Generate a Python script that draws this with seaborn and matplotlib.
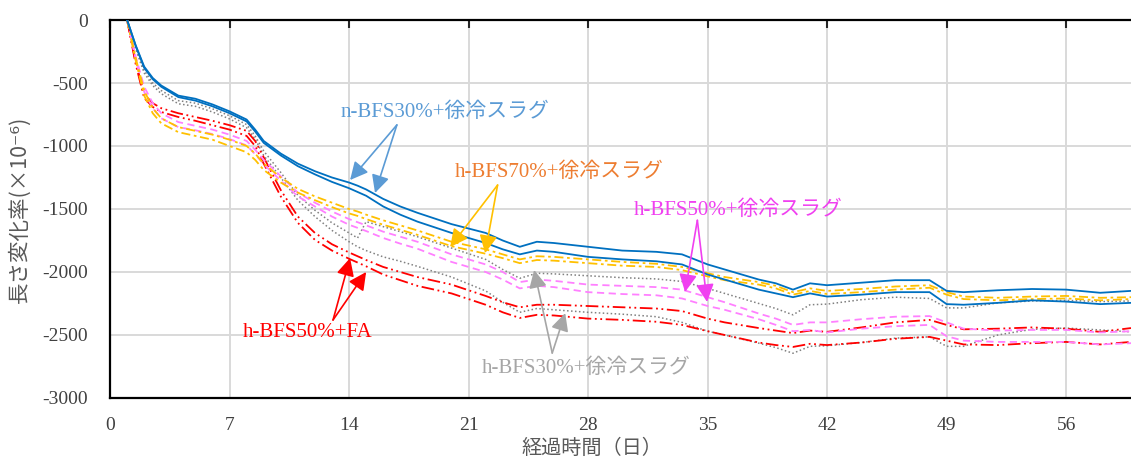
import matplotlib
matplotlib.use("Agg")
import matplotlib.pyplot as plt
import numpy as np
import pandas as pd
import seaborn as sns

# elapsed time (days) shared by all specimens
days = [1, 1.5, 2, 2.5, 3, 4, 5, 6, 7, 8, 8.5, 9, 10, 11, 12, 13, 14, 14.5, 15,
        16, 17, 18, 20, 22, 23, 24, 25, 26, 28, 30, 32, 33.5, 35, 36, 38, 39,
        40, 41, 42, 44, 46, 48, 49, 50, 52, 54, 56, 58, 59.8]

# length change (x10^-6), two specimens per mix
n30_a = [0, -200, -370, -460, -520, -600, -625, -670, -725, -790, -870, -960, -1060, -1140,
         -1200, -1250, -1290, -1315, -1345, -1420, -1480, -1530, -1620, -1690, -1750, -1800,
         -1760, -1770, -1800, -1830, -1840, -1860, -1940, -1980, -2060, -2090, -2140, -2090,
         -2105, -2085, -2065, -2065, -2150, -2160, -2145, -2135, -2140, -2165, -2150]
n30_b = [0, -205, -380, -470, -530, -612, -640, -685, -740, -805, -885, -975, -1075, -1160,
         -1225, -1285, -1335, -1365, -1395, -1480, -1545, -1600, -1690, -1770, -1820, -1860,
         -1830, -1840, -1880, -1900, -1915, -1940, -2020, -2060, -2140, -2170, -2200, -2170,
         -2195, -2180, -2160, -2160, -2255, -2260, -2245, -2225, -2235, -2255, -2245]
h70_a = [0, -300, -560, -700, -780, -850, -880, -910, -950, -1000, -1060, -1140, -1250, -1340,
         -1400, -1450, -1500, -1520, -1545, -1590, -1630, -1670, -1760, -1820, -1860, -1900,
         -1875, -1880, -1900, -1920, -1935, -1960, -2010, -2040, -2080, -2110, -2160, -2130,
         -2150, -2135, -2115, -2105, -2160, -2195, -2205, -2195, -2190, -2205, -2200]
h70_b = [0, -320, -600, -740, -820, -890, -920, -950, -1000, -1050, -1110, -1190, -1290, -1370,
         -1430, -1485, -1535, -1555, -1580, -1625, -1665, -1705, -1795, -1855, -1890, -1930,
         -1905, -1910, -1930, -1950, -1960, -1985, -2035, -2065, -2100, -2130, -2180, -2150,
         -2175, -2160, -2140, -2125, -2180, -2215, -2225, -2215, -2210, -2225, -2215]
h50_a = [0, -290, -530, -660, -740, -810, -840, -870, -910, -960, -1030, -1110, -1240, -1370,
         -1450, -1520, -1580, -1605, -1630, -1680, -1720, -1760, -1860, -1940, -2000, -2080,
         -2060, -2070, -2100, -2110, -2120, -2140, -2200, -2240, -2330, -2370, -2420, -2400,
         -2400, -2375, -2355, -2350, -2400, -2450, -2465, -2460, -2460, -2480, -2470]
h50_b = [0, -310, -570, -700, -780, -850, -875, -905, -945, -995, -1065, -1145, -1275, -1400,
         -1480, -1560, -1625, -1650, -1675, -1730, -1775, -1815, -1920, -2000, -2060, -2130,
         -2110, -2120, -2160, -2175, -2185, -2210, -2270, -2300, -2375, -2420, -2470, -2460,
         -2480, -2450, -2430, -2420, -2510, -2545, -2555, -2555, -2555, -2575, -2565]
fa_a = [0, -330, -590, -660, -700, -740, -770, -800, -835, -880, -960, -1090, -1350, -1560,
        -1690, -1780, -1845, -1875, -1905, -1960, -2000, -2040, -2100, -2190, -2240, -2280,
        -2260, -2260, -2270, -2280, -2290, -2310, -2370, -2400, -2445, -2465, -2485, -2465,
        -2475, -2440, -2400, -2380, -2420, -2455, -2450, -2440, -2450, -2475, -2445]
fa_b = [0, -350, -620, -690, -730, -770, -800, -835, -870, -920, -1000, -1140, -1400, -1610,
        -1745, -1830, -1895, -1925, -1955, -2020, -2065, -2110, -2170, -2260, -2320, -2365,
        -2340, -2345, -2370, -2380, -2395, -2420, -2470, -2500, -2560, -2580, -2595, -2570,
        -2580, -2560, -2530, -2515, -2545, -2575, -2580, -2565, -2555, -2575, -2555]
h30_a = [0, -220, -400, -500, -560, -640, -660, -705, -760, -830, -920, -1040, -1210, -1390,
         -1510, -1610, -1690, -1730, -1600, -1640, -1680, -1720, -1810, -1900, -1980, -2050,
         -2010, -2015, -2030, -2045, -2055, -2075, -2130, -2170, -2250, -2290, -2340, -2260,
         -2255, -2220, -2200, -2210, -2285, -2285, -2245, -2230, -2225, -2235, -2230]
h30_b = [0, -230, -420, -520, -585, -665, -685, -730, -785, -855, -945, -1075, -1250, -1430,
         -1560, -1670, -1760, -1800, -1830, -1880, -1915, -1955, -2040, -2150, -2240, -2320,
         -2290, -2300, -2320, -2335, -2355, -2400, -2470, -2500, -2565, -2600, -2645, -2590,
         -2585, -2560, -2525, -2515, -2590, -2590, -2500, -2455, -2445, -2460, -2475]

x_ticks = [0, 7, 14, 21, 28, 35, 42, 49, 56]
y_ticks = [0, -500, -1000, -1500, -2000, -2500, -3000]

sns.set_theme(style="white")
plt.rcParams["font.family"] = ["Liberation Serif", "Noto Sans CJK JP", "DejaVu Sans"]
plt.rcParams["axes.unicode_minus"] = False

fig = plt.figure(figsize=(11.31, 4.61), dpi=100)
ax = fig.add_axes([0.0973, 0.1367, 0.9027, 0.8199])

styles = [
    (h30_a, "#808080", (0, (1, 1.6)), 1.1),
    (h30_b, "#808080", (0, (1, 1.6)), 1.1),
    (fa_a, "#FF0000", (0, (7, 2, 1, 2, 1, 2)), 1.3),
    (fa_b, "#FF0000", (0, (7, 2, 1, 2, 1, 2)), 1.3),
    (h50_a, "#FF80FF", (0, (4, 2.5)), 1.3),
    (h50_b, "#FF80FF", (0, (4, 2.5)), 1.3),
    (h70_a, "#FFC000", (0, (5, 2, 1.5, 2)), 1.3),
    (h70_b, "#FFC000", (0, (5, 2, 1.5, 2)), 1.3),
    (n30_a, "#0070C0", "-", 1.3),
    (n30_b, "#0070C0", "-", 1.3),
]
for vals, col, ls, lw in styles:
    df = pd.DataFrame({"day": days, "strain": vals})
    sns.lineplot(data=df, x="day", y="strain", ax=ax, color=col, linestyle=ls,
                 linewidth=lw, estimator=None, sort=False, zorder=3)

ax.set_xlim(0, 59.8)
ax.set_ylim(-3000, 0)
ax.set_xticks(x_ticks)
ax.set_yticks(y_ticks)
ax.grid(True, color="#D9D9D9", linewidth=1.4, zorder=0)
ax.set_axisbelow(True)

for side in ["left", "top", "bottom"]:
    ax.spines[side].set_visible(True)
    ax.spines[side].set_color("black")
    ax.spines[side].set_linewidth(1.6)
ax.spines["right"].set_visible(False)

ax.tick_params(axis="x", which="both", bottom=False, top=True, direction="in",
               length=6, width=1.5, labelbottom=True, labeltop=False,
               labelsize=14, labelcolor="#404040", pad=14)
ax.tick_params(axis="y", left=False, labelsize=14, labelcolor="#404040", pad=10)
for lab in ax.get_xticklabels() + ax.get_yticklabels():
    lab.set_family("Liberation Serif")

ax.set_xlabel("経過時間（日）", family=["Noto Sans CJK JP", "DejaVu Sans"],
              fontsize=14.5, color="#595959")
ax.xaxis.set_label_coords((592 - 110) / 1021, -0.105)
ax.set_ylabel("長さ変化率(×10⁻⁶)", family=["Noto Sans CJK JP", "DejaVu Sans"],
              fontsize=15.5, color="#595959", labelpad=8)

ann_font = ["Liberation Serif", "Noto Sans CJK JP", "DejaVu Sans"]

def label(text, xy_text, tcol):
    ax.text(xy_text[0], xy_text[1], text, color=tcol, fontsize=15, family=ann_font,
            ha="center", va="center", zorder=5)

def arrows(start, targets, acol):
    for tgt in targets:
        ax.annotate("", xy=tgt, xytext=start,
                    arrowprops=dict(arrowstyle="-|>,head_length=0.9,head_width=0.45",
                                    color=acol, lw=1.2, shrinkA=0, shrinkB=0),
                    zorder=5)

label("n-BFS30%+徐冷スラグ", (19.6, -730), "#5B9BD5")
arrows((16.8, -833), [(14.06, -1270), (15.52, -1373)], "#5B9BD5")

label("h-BFS70%+徐冷スラグ", (26.3, -1206), "#ED7D31")
arrows((22.7, -1310), [(19.92, -1802), (21.97, -1850)], "#FFC000")

label("h-BFS50%+徐冷スラグ", (36.8, -1508), "#F040F0")
arrows((34.4, -1590), [(33.68, -2159), (34.97, -2238)], "#F040F0")

label("h-BFS50%+FA", (11.6, -2484), "#FF0000")
arrows((13.06, -2381), [(14.06, -1889), (15.0, -2000)], "#FF0000")

label("h-BFS30%+徐冷スラグ", (27.9, -2762), "#A6A6A6")
arrows((25.9, -2643), [(24.84, -1984), (26.66, -2326)], "#A6A6A6")

fig.savefig("out.png", dpi=100)
